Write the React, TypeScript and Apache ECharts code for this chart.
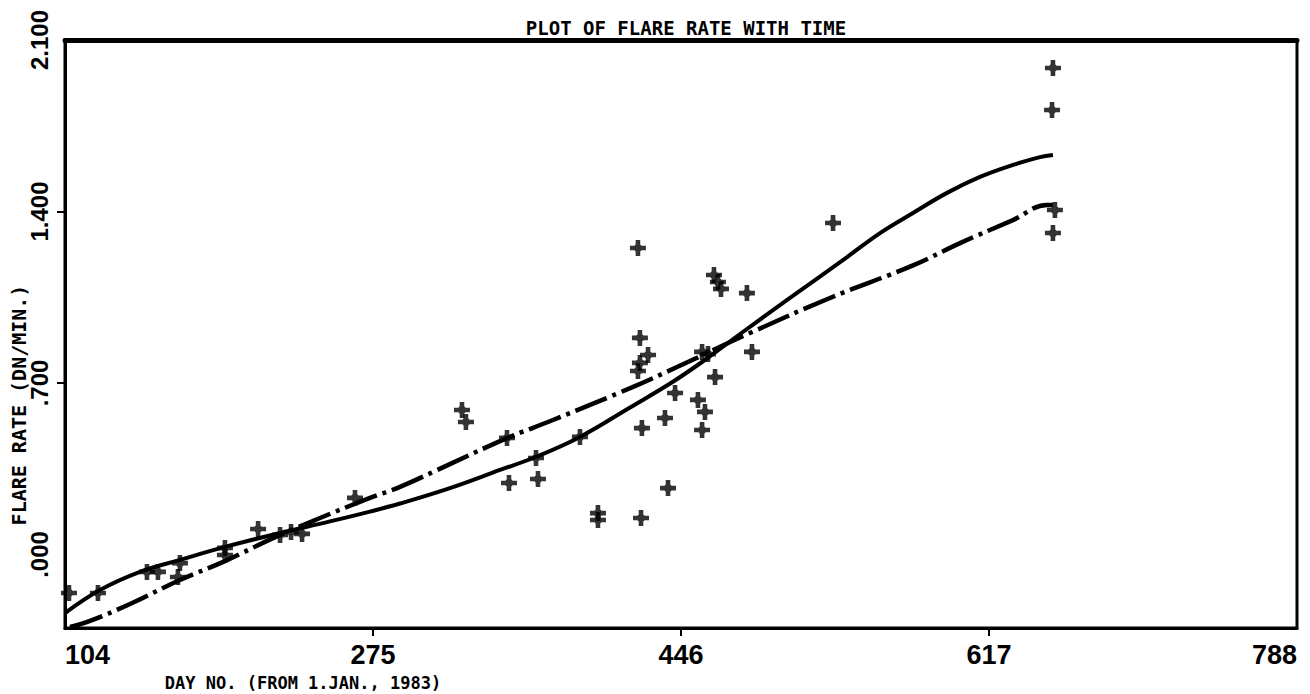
import React, { useEffect, useRef } from "react";
import * as echarts from "echarts";

const titleText = "PLOT OF FLARE RATE WITH TIME";
const xAxisName = "DAY NO. (FROM 1.JAN., 1983)";
const yAxisName = "FLARE RATE (DN/MIN.)";

const xTickValues = [104, 275, 446, 617, 788];
const yTickValues = [0, 0.7, 1.4, 2.1];
const yTickLabels = [".000", ".700", "1.400", "2.100"];

// observed flare rates: [day, rate]
const observedPoints: [number, number][] = [
  [106.2, -0.157], [122.3, -0.157], [149.5, -0.071], [155.6, -0.071],
  [167.8, -0.035], [166.7, -0.092], [192.8, 0.027], [192.8, -0.002],
  [211.2, 0.104], [223.4, 0.08], [229.5, 0.092], [235.6, 0.084],
  [265.0, 0.231], [324.4, 0.59], [326.6, 0.541], [349.4, 0.476],
  [350.5, 0.292], [365.5, 0.394], [366.6, 0.308], [389.9, 0.48],
  [399.9, 0.169], [399.9, 0.141], [423.8, 0.149], [424.3, 0.516],
  [437.1, 0.557], [438.8, 0.271], [442.7, 0.659], [455.4, 0.631],
  [459.3, 0.582], [457.7, 0.508], [464.9, 0.724], [422.1, 1.251],
  [423.2, 0.884], [427.7, 0.814], [423.2, 0.782], [422.1, 0.749],
  [464.3, 1.141], [466.5, 1.112], [468.2, 1.084], [482.6, 1.067],
  [485.4, 0.827], [457.7, 0.827], [461.0, 0.818], [530.4, 1.353],
  [652.5, 1.986], [652.0, 1.814], [653.6, 1.406], [652.5, 1.312],
];

// solid fitted curve
const solidFit: [number, number][] = [
  [104.0, -0.239], [123.4, -0.145], [145.6, -0.071], [167.8, -0.022],
  [192.8, 0.031], [223.4, 0.088], [251.1, 0.135], [273.3, 0.175],
  [290.0, 0.208], [317.7, 0.271], [345.5, 0.345], [364.9, 0.397],
  [389.9, 0.48], [417.7, 0.6], [441.5, 0.705], [460.4, 0.8],
  [478.8, 0.9], [506.5, 1.047], [538.2, 1.214], [556.5, 1.312],
  [574.8, 1.394], [593.7, 1.476], [612.0, 1.541], [630.3, 1.59],
  [645.3, 1.622], [652.5, 1.631],
];

// dash-dot fitted curve
const dashDotFit: [number, number][] = [
  [106.8, -0.296], [117.9, -0.271], [140.1, -0.202], [167.8, -0.104],
  [192.8, -0.027], [219.5, 0.067], [245.6, 0.149], [273.3, 0.231],
  [290.0, 0.276], [317.7, 0.369], [349.4, 0.475], [374.9, 0.549],
  [419.4, 0.684], [443.8, 0.765], [484.3, 0.904], [528.7, 1.047],
  [574.8, 1.18], [600.9, 1.271], [630.3, 1.365], [649.2, 1.427],
  [652.5, 1.427],
];

const crossSymbol =
  "path://M-2.3,-8L2.3,-8L2.3,-3.6L3.6,-2.3L8,-2.3L8,2.3L3.6,2.3L2.3,3.6L2.3,8L-2.3,8L-2.3,3.6L-3.6,2.3L-8,2.3L-8,-2.3L-3.6,-2.3L-2.3,-3.6Z";

export default function App() {
  const ref = useRef<HTMLDivElement>(null);

  useEffect(() => {
    if (!ref.current) return;
    const chart = echarts.init(ref.current, null, { renderer: "svg" });
    chart.setOption({
      animation: false,
      backgroundColor: "#ffffff",
      title: {
        text: titleText,
        left: 681,
        textAlign: "center",
        top: 13,
        textStyle: {
          fontFamily: "DejaVu Sans Mono",
          fontSize: 19,
          fontWeight: "bold",
          color: "#000",
        },
      },
      grid: {
        left: 65,
        right: 13,
        top: 40,
        bottom: 66,
        show: true,
        borderColor: "#000",
        borderWidth: 3,
        containLabel: false,
        outerBoundsMode: "none",
      },
      xAxis: [
        {
          type: "value",
          min: 104,
          max: 788,
          name: xAxisName,
          nameLocation: "middle",
          nameGap: 46,
          nameMoveOverlap: false,
          nameTextStyle: {
            fontFamily: "DejaVu Sans Mono",
            fontSize: 17,
            fontWeight: "bold",
            color: "#000",
            padding: [0, 756, 0, 0],
          },
          splitLine: { show: false },
          axisLine: { show: true, onZero: false, lineStyle: { color: "#000", width: 3 } },
          axisTick: {
            show: true,
            length: 8,
            customValues: [275, 446, 617],
            lineStyle: { color: "#000", width: 2 },
          },
          axisLabel: {
            customValues: xTickValues,
            margin: 13,
            alignMinLabel: "left",
            alignMaxLabel: "right",
            fontFamily: "Liberation Sans",
            fontWeight: "bold",
            fontSize: 27,
            color: "#000",
            formatter: (v: number) => String(Math.round(v)),
          },
        },
        {
          type: "value",
          position: "top",
          min: 104,
          max: 788,
          splitLine: { show: false },
          axisLine: { show: true, onZero: false, lineStyle: { color: "#000", width: 5 } },
          axisTick: { show: false },
          axisLabel: { show: false },
        },
      ],
      yAxis: {
        type: "value",
        min: -0.3,
        max: 2.1,
        name: yAxisName,
        nameLocation: "middle",
        nameRotate: 90,
        nameGap: 36,
        nameMoveOverlap: false,
        nameTextStyle: {
          fontFamily: "DejaVu Sans Mono",
          fontSize: 20,
          fontWeight: "bold",
          color: "#000",
          padding: [0, 142, 0, 0],
        },
        splitLine: { show: false },
        axisLine: { show: true, onZero: false, lineStyle: { color: "#000", width: 3 } },
        axisTick: {
          show: true,
          length: 8,
          customValues: [0.7, 1.4],
          lineStyle: { color: "#000", width: 2 },
        },
        axisLabel: {
          customValues: yTickValues,
          rotate: 90,
          margin: 14,
          showMinLabel: true,
          showMaxLabel: true,
          fontFamily: "Liberation Sans",
          fontWeight: "bold",
          fontSize: 24,
          color: "#000",
          formatter: (v: number) => {
            const i = yTickValues.findIndex((t) => Math.abs(t - v) < 1e-6);
            return i >= 0 ? yTickLabels[i] : "";
          },
        },
      },
      series: [
        {
          type: "line",
          name: "solid fit",
          data: solidFit,
          smooth: 0.4,
          showSymbol: false,
          symbol: "none",
          lineStyle: { color: "#000", width: 4 },
          z: 2,
        },
        {
          type: "line",
          name: "dash-dot fit",
          data: dashDotFit,
          smooth: 0.4,
          showSymbol: false,
          symbol: "none",
          lineStyle: { color: "#000", width: 4.5, type: [34, 6, 4, 6] },
          z: 2,
        },
        {
          type: "scatter",
          name: "observed",
          data: observedPoints,
          symbol: crossSymbol,
          symbolSize: 16,
          itemStyle: { color: "#000" },
          z: 3,
        },
      ],
    });
    return () => chart.dispose();
  }, []);

  return (
    <div
      ref={ref}
      style={{ position: "fixed", left: 0, top: 0, width: 1310, height: 694 }}
    />
  );
}
